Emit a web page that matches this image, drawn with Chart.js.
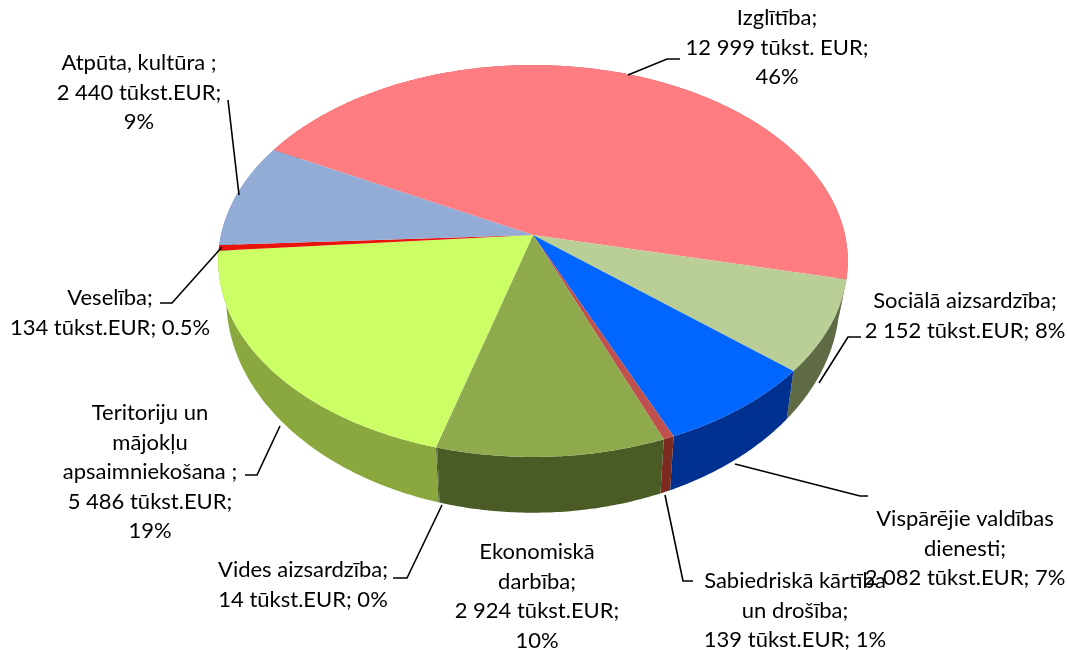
<!DOCTYPE html>
<html>
<head>
<meta charset="utf-8">
<style>
  html, body { margin: 0; background: #fff; }
  canvas { display: block; }
</style>
<script src="https://cdn.jsdelivr.net/npm/chart.js@4/dist/chart.umd.min.js"></script>
</head>
<body>
<canvas id="budget" width="1067" height="650"></canvas>
<script>
const categories = ['Izglītība', 'Sociālā aizsardzība', 'Vispārējie valdības dienesti', 'Sabiedriskā kārtība un drošība',
    'Ekonomiskā darbība', 'Vides aizsardzība', 'Teritoriju un mājokļu apsaimniekošana', 'Veselība', 'Atpūta, kultūra'];
const values = [12999, 2152, 2082, 139, 2924, 14, 5486, 134, 2440];
const topColors = ['#ff7c80', '#b9cf97', '#0066ff', '#c0504d', '#8eaa4c', '#6f8a35', '#ccff66', '#e8140c', '#93acd6'];
const wallColors = ['#c05a5c', '#5e6b45', '#003090', '#7d2a20', '#4a5b25', '#4a5b25', '#8aa83e', '#a01010', '#6e83a8'];

// label text, one array per line, x = line centre, y = first line centre
const labelLines = [
    ['Izglītība;', '12 999 tūkst. EUR;', '46%'],
    ['Sociālā aizsardzība;', '2 152 tūkst.EUR; 8%'],
    ['Vispārējie valdības', 'dienesti;', '2 082 tūkst.EUR; 7%'],
    ['Sabiedriskā kārtība', 'un drošība;', '139 tūkst.EUR; 1%'],
    ['Ekonomiskā', 'darbība;', '2 924 tūkst.EUR;', '10%'],
    ['Vides aizsardzība;', '14 tūkst.EUR; 0%'],
    ['Teritoriju un', 'mājokļu', 'apsaimniekošana ;', '5 486 tūkst.EUR;', '19%'],
    ['Veselība;', '134 tūkst.EUR; 0.5%'],
    ['Atpūta, kultūra ;', '2 440 tūkst.EUR;', '9%']
];
const labelAnchors = [[777, 18], [965, 301], [965, 519], [795, 581], [537, 552], [303, 570], [150, 413], [110, 298], [139, 63]];
const leaders = [
    [[628, 75], [667, 59], [680, 59]],
    [[819, 383], [848, 337], [861, 337]],
    [[735, 464], [860, 496], [868, 496]],
    [[665, 495], [683, 581], [693, 581]],
    [],
    [[442, 505], [407, 578], [393, 578]],
    [[280, 426], [257, 475], [245, 475]],
    [[222, 247], [172, 303], [160, 303]],
    [[239, 195], [228, 100]]
];

// perspective of the tilted disc; the lower rim is narrower and seen more from above
const disc = { cx: 533, cy: 235, rx: 312, ry: 192.5, k: 0.1327, lowerDrop: 35.6, lowerRx: 304, lowerRy: 210 };

function project(angle, lower) {
    const u = Math.cos(angle), v = Math.sin(angle);
    const w = 1 - disc.k * v;
    return {
        x: disc.cx + (lower ? disc.lowerRx : disc.rx) * u / w,
        y: disc.cy + (lower ? disc.lowerDrop + disc.lowerRy * v / w : disc.ry * v / w)
    };
}

function traceRim(ctx, from, to, lower) {
    const steps = Math.max(2, Math.ceil(Math.abs(to - from) / 0.01));
    for (let i = 0; i <= steps; i++) {
        const p = project(from + (to - from) * i / steps, lower);
        ctx.lineTo(p.x, p.y);
    }
}

const tiltedPie = {
    id: 'tiltedPie',
    beforeDatasetDraw(chart, args) {
        const ctx = chart.ctx;
        const arcs = args.meta.data;
        ctx.save();
        // walls, back to front
        const order = arcs.map((a, i) => i).sort((a, b) =>
            Math.sin((arcs[a].startAngle + arcs[a].endAngle) / 2) - Math.sin((arcs[b].startAngle + arcs[b].endAngle) / 2));
        order.forEach(i => {
            ctx.beginPath();
            traceRim(ctx, arcs[i].startAngle, arcs[i].endAngle, false);
            traceRim(ctx, arcs[i].endAngle, arcs[i].startAngle, true);
            ctx.closePath();
            ctx.fillStyle = wallColors[i];
            ctx.fill();
        });
        // top face
        arcs.forEach(arc => {
            ctx.beginPath();
            ctx.moveTo(disc.cx, disc.cy);
            traceRim(ctx, arc.startAngle, arc.endAngle, false);
            ctx.closePath();
            ctx.fillStyle = arc.options.backgroundColor;
            ctx.fill();
        });
        ctx.restore();
        return false;
    },
    afterDatasetsDraw(chart) {
        const ctx = chart.ctx;
        ctx.save();
        ctx.strokeStyle = '#000';
        ctx.lineWidth = 1.6;
        leaders.forEach(pts => {
            ctx.beginPath();
            pts.forEach((p, i) => i ? ctx.lineTo(p[0], p[1]) : ctx.moveTo(p[0], p[1]));
            ctx.stroke();
        });
        ctx.fillStyle = '#000';
        ctx.font = '22px Lato';
        ctx.textAlign = 'center';
        ctx.textBaseline = 'middle';
        labelLines.forEach((lines, i) => {
            lines.forEach((line, j) => {
                ctx.fillText(line, labelAnchors[i][0], labelAnchors[i][1] + j * 29.5);
            });
        });
        ctx.restore();
    }
};

new Chart(document.getElementById('budget').getContext('2d'), {
    type: 'pie',
    data: {
        labels: categories,
        datasets: [{ data: values, backgroundColor: topColors, borderWidth: 0 }]
    },
    options: {
        responsive: false,
        animation: false,
        rotation: -62,
        plugins: { legend: { display: false }, tooltip: { enabled: false } }
    },
    plugins: [tiltedPie]
});
</script>
</body>
</html>
